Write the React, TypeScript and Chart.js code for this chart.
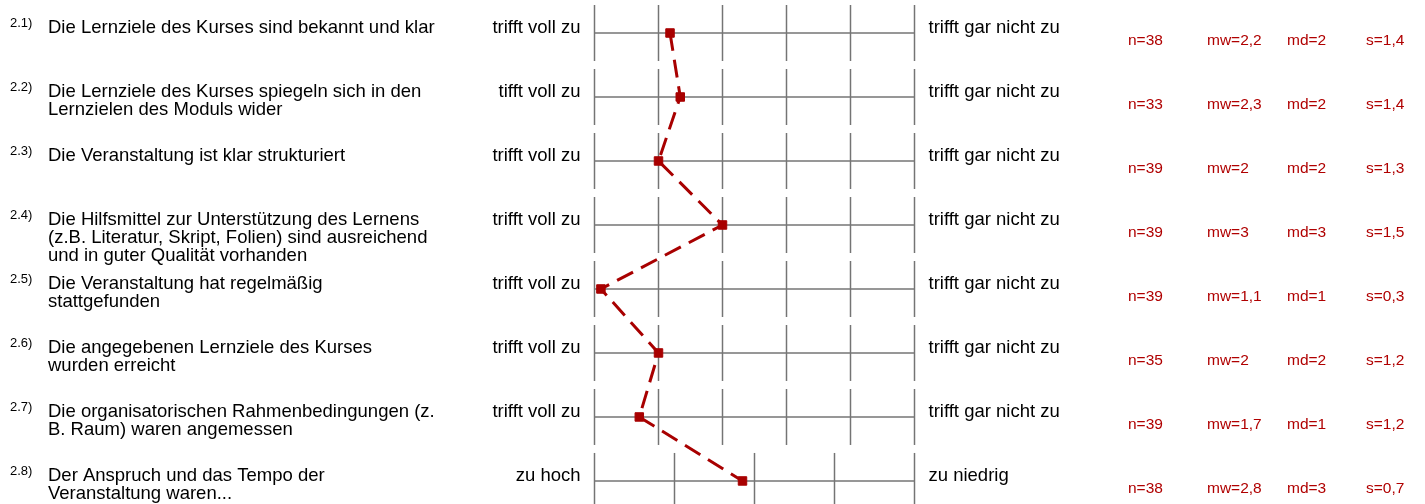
import React, { useEffect, useRef } from 'react';
import { Chart, registerables } from 'chart.js';

Chart.register(...registerables);

const itemNumbers = ['2.1)', '2.2)', '2.3)', '2.4)', '2.5)', '2.6)', '2.7)', '2.8)'];
const questions: string[][] = [
  ['Die Lernziele des Kurses sind bekannt und klar'],
  ['Die Lernziele des Kurses spiegeln sich in den', 'Lernzielen des Moduls wider'],
  ['Die Veranstaltung ist klar strukturiert'],
  ['Die Hilfsmittel zur Unterstützung des Lernens', '(z.B. Literatur, Skript, Folien) sind ausreichend', 'und in guter Qualität vorhanden'],
  ['Die Veranstaltung hat regelmäßig', 'stattgefunden'],
  ['Die angegebenen Lernziele des Kurses', 'wurden erreicht'],
  ['Die organisatorischen Rahmenbedingungen (z.', 'B. Raum) waren angemessen'],
  ['Der Anspruch und das Tempo der', 'Veranstaltung waren...'],
];
const leftPoles = ['trifft voll zu', 'tifft voll zu', 'trifft voll zu', 'trifft voll zu', 'trifft voll zu', 'trifft voll zu', 'trifft voll zu', 'zu hoch'];
const rightPoles = ['trifft gar nicht zu', 'trifft gar nicht zu', 'trifft gar nicht zu', 'trifft gar nicht zu', 'trifft gar nicht zu', 'trifft gar nicht zu', 'trifft gar nicht zu', 'zu niedrig'];
const scalePoints = [6, 6, 6, 6, 6, 6, 6, 5];
const means = [2.18, 2.34, 2.0, 3.0, 1.1, 2.0, 1.7, 2.85];
const nValues = ['38', '33', '39', '39', '39', '35', '39', '38'];
const mwLabels = ['2,2', '2,3', '2', '3', '1,1', '2', '1,7', '2,8'];
const mdLabels = ['2', '2', '2', '3', '1', '2', '1', '3'];
const sLabels = ['1,4', '1,4', '1,3', '1,5', '0,3', '1,2', '1,2', '0,7'];

const FONT = '"Liberation Sans", Arial, Helvetica, sans-serif';
const RED = '#a80000';
const STAT_RED = '#b00000';
const GRID = '#747474';
const HALF = 0.4375;

const profilePlugin = {
  id: 'profile',
  beforeDatasetsDraw(chart: any) {
    const { ctx, scales } = chart;
    const x = scales.x;
    const y = scales.y;
    ctx.save();
    ctx.strokeStyle = GRID;
    ctx.lineWidth = 1.5;
    scalePoints.forEach((pts, i) => {
      const cy = y.getPixelForValue(i);
      ctx.beginPath();
      ctx.moveTo(x.getPixelForValue(0), cy);
      ctx.lineTo(x.getPixelForValue(1), cy);
      ctx.stroke();
      const top = y.getPixelForValue(i - HALF);
      const bot = y.getPixelForValue(i + HALF);
      for (let k = 0; k < pts; k++) {
        const px = x.getPixelForValue(k / (pts - 1));
        ctx.beginPath();
        ctx.moveTo(px, top);
        ctx.lineTo(px, bot);
        ctx.stroke();
      }
    });
    ctx.restore();
  },
  afterDraw(chart: any) {
    const { ctx, scales } = chart;
    const x = scales.x;
    const y = scales.y;
    const left = x.getPixelForValue(0);
    const right = x.getPixelForValue(1);
    ctx.save();
    ctx.textBaseline = 'alphabetic';
    questions.forEach((lines, i) => {
      const cy = y.getPixelForValue(i);
      ctx.fillStyle = '#000';
      ctx.textAlign = 'left';
      ctx.font = `13px ${FONT}`;
      ctx.fillText(itemNumbers[i], 10, cy - 6);
      ctx.font = `18.5px ${FONT}`;
      lines.forEach((ln, j) => ctx.fillText(ln, 48, cy + j * 18));
      ctx.textAlign = 'right';
      ctx.fillText(leftPoles[i], left - 14, cy);
      ctx.textAlign = 'left';
      ctx.fillText(rightPoles[i], right + 14, cy);
      ctx.fillStyle = STAT_RED;
      ctx.font = `15.5px ${FONT}`;
      const sy = cy + 12;
      ctx.fillText('n=' + nValues[i], 1128, sy);
      ctx.fillText('mw=' + mwLabels[i], 1207, sy);
      ctx.fillText('md=' + mdLabels[i], 1287, sy);
      ctx.fillText('s=' + sLabels[i], 1366, sy);
    });
    ctx.restore();
  },
};

export default function App() {
  const ref = useRef<HTMLCanvasElement>(null);
  useEffect(() => {
    document.body.style.margin = '0';
    const canvas = ref.current;
    if (!canvas) return;
    const data = means.map((m, i) => ({ x: (m - 1) / (scalePoints[i] - 1), y: i }));
    const chart = new Chart(canvas, {
      type: 'line',
      data: {
        datasets: [
          {
            data,
            borderColor: RED,
            backgroundColor: RED,
            borderWidth: 3,
            borderDash: [18, 9],
            pointStyle: 'rect',
            pointRadius: 6,
            pointBorderWidth: 1,
            pointBorderColor: RED,
            pointBackgroundColor: RED,
            tension: 0,
            clip: false as any,
          },
        ],
      },
      options: {
        animation: false,
        responsive: false,
        devicePixelRatio: 1,
        layout: { autoPadding: false, padding: { left: 594.5, right: 510.5, top: 5, bottom: 0 } },
        plugins: { legend: { display: false }, tooltip: { enabled: false } },
        scales: {
          x: { type: 'linear', min: 0, max: 1, display: false },
          y: { type: 'linear', min: -HALF, max: 7.36, reverse: true, display: false },
        },
      },
      plugins: [profilePlugin],
    });
    return () => chart.destroy();
  }, []);
  return (
    <div style={{ width: 1425, height: 504, background: '#fff' }}>
      <canvas ref={ref} width={1425} height={504} style={{ display: 'block' }} />
    </div>
  );
}
